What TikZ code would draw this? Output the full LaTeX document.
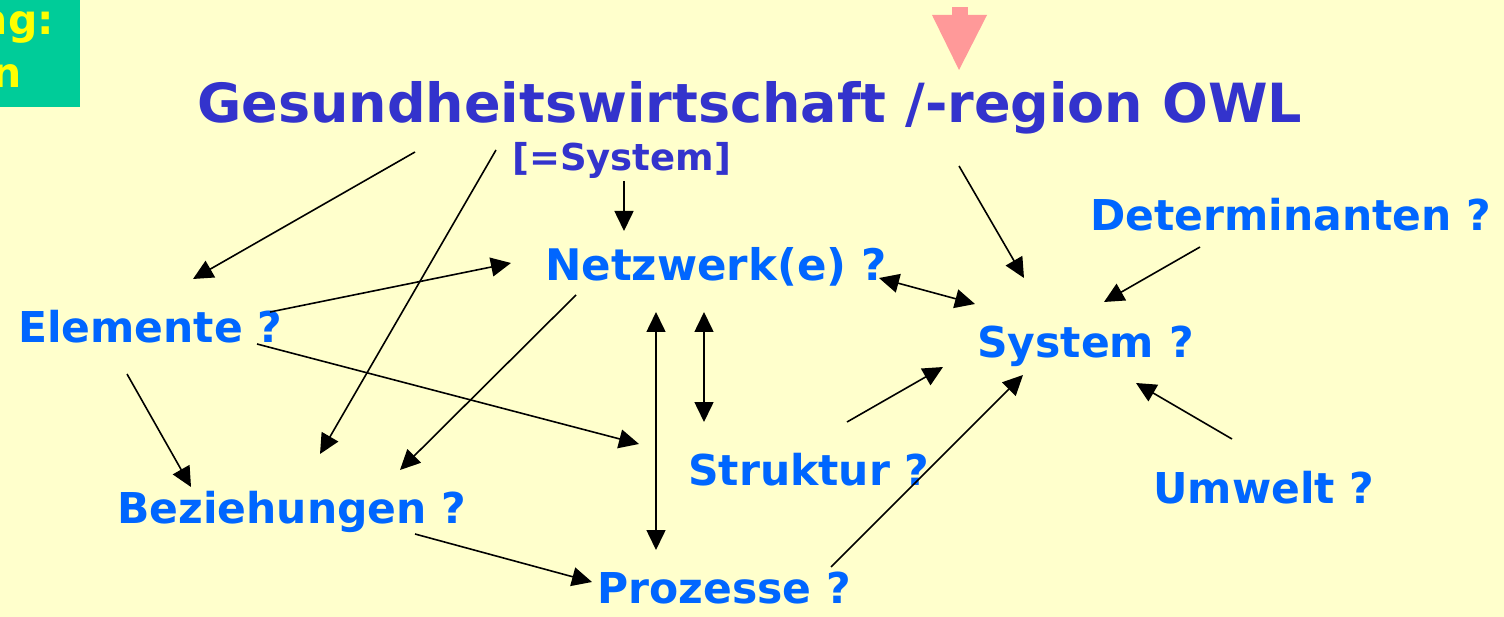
\documentclass[tikz,border=0pt]{standalone}
\usepackage{fontspec}
\setmainfont{DejaVu Sans}
\usetikzlibrary{arrows.meta}
\definecolor{bg}{HTML}{FFFFCC}
\definecolor{titleblue}{HTML}{3333CC}
\definecolor{lblue}{HTML}{0066FF}
\definecolor{boxgreen}{HTML}{00CC99}
\definecolor{ylw}{HTML}{FFFF00}
\definecolor{pink}{HTML}{FF9999}
\tikzset{
  lbl/.style={anchor=base west, inner sep=0pt, text=lblue, font=\fontsize{42.5}{50}\selectfont\bfseries},
  ttl/.style={anchor=base west, inner sep=0pt, text=titleblue, font=\fontsize{54}{60}\selectfont\bfseries},
  sub/.style={anchor=base west, inner sep=0pt, text=titleblue, font=\fontsize{37}{42}\selectfont\bfseries},
  boxtxt/.style={anchor=base east, inner sep=0pt, text=ylw, font=\fontsize{41}{50}\selectfont\bfseries},
  arr/.style={line width=1.6pt, -{Triangle[length=20pt,width=19pt]}},
  darr/.style={line width=1.6pt, {Triangle[length=20pt,width=19pt]}-{Triangle[length=20pt,width=19pt]}},
}
\begin{document}
\begin{tikzpicture}[x=1pt,y=-1pt]
\fill[bg] (0,0) rectangle (1504,617);
\useasboundingbox (0,0) rectangle (1504,617);
% green box
\fill[boxgreen] (0,0) rectangle (80,107);
\node[boxtxt] (b1) at (54,35) {ng:};
\node[boxtxt] (b2) at (22,88) {n};
% pink arrow
\fill[pink] (952,7) rectangle (968,16);
\fill[pink] (932,15) -- (987,15) -- (959,70) -- cycle;
% texts
\node[ttl] (title) at (197,123) {Gesundheitswirtschaft /-region OWL};
\node[sub] (sys0) at (512,171) {[=System]};
\node[lbl, font=\fontsize{43.5}{50}\selectfont\bfseries] (netz) at (545,281) {Netzwerk(e) ?};
\node[lbl] (elem) at (18,343) {Elemente ?};
\node[lbl] (system) at (977,357) {System ?};
\node[lbl] (det) at (1090,231) {Determinanten ?};
\node[lbl] (strukt) at (688,485) {Struktur ?};
\node[lbl] (umwelt) at (1153,503) {Umwelt ?};
\node[lbl] (bez) at (117,523) {Beziehungen ?};
\node[lbl] (proz) at (597,603) {Prozesse ?};
% coordinates
\coordinate (a1s) at (415,152); \coordinate (a1e) at (193,279);
\coordinate (a2s) at (496,150); \coordinate (a2e) at (320,454);
\coordinate (a3s) at (624,181); \coordinate (a3e) at (624,231);
\coordinate (a4s) at (270,312); \coordinate (a4e) at (511,263);
\coordinate (a5s) at (257,344); \coordinate (a5e) at (639,444);
\coordinate (a6s) at (576,295); \coordinate (a6e) at (400,470);
\coordinate (a7s) at (656,312); \coordinate (a7e) at (656,550);
\coordinate (a8s) at (704,312); \coordinate (a8e) at (704,422);
\coordinate (a9s) at (879,278); \coordinate (a9e) at (975,304);
\coordinate (a10s) at (959,166); \coordinate (a10e) at (1024,278);
\coordinate (a11s) at (1200,247); \coordinate (a11e) at (1104,302);
\coordinate (a12s) at (847,422); \coordinate (a12e) at (943,367);
\coordinate (a13s) at (831,567); \coordinate (a13e) at (1023,375);
\coordinate (a14s) at (1232,439); \coordinate (a14e) at (1136,383);
\coordinate (a15s) at (127,374); \coordinate (a15e) at (191,487);
\coordinate (a16s) at (415,534); \coordinate (a16e) at (592,582);
% arrows
\draw[arr] (a1s) -- (a1e);
\draw[arr] (a2s) -- (a2e);
\draw[arr] (a3s) -- (a3e);
\draw[arr] (a4s) -- (a4e);
\draw[arr] (a5s) -- (a5e);
\draw[arr] (a6s) -- (a6e);
\draw[darr] (a7s) -- (a7e);
\draw[darr] (a8s) -- (a8e);
\draw[darr] (a9s) -- (a9e);
\draw[arr] (a10s) -- (a10e);
\draw[arr] (a11s) -- (a11e);
\draw[arr] (a12s) -- (a12e);
\draw[arr] (a13s) -- (a13e);
\draw[arr] (a14s) -- (a14e);
\draw[arr] (a15s) -- (a15e);
\draw[arr] (a16s) -- (a16e);
\end{tikzpicture}
\end{document}
